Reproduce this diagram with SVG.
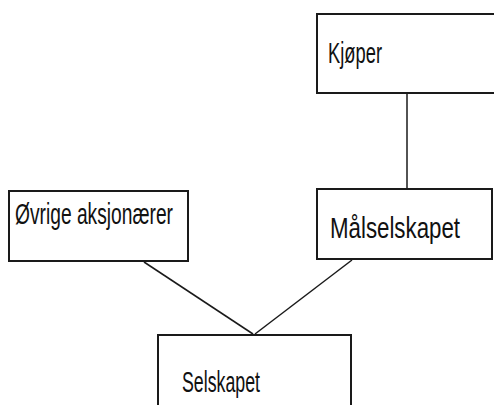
<svg xmlns="http://www.w3.org/2000/svg" width="494" height="405" viewBox="0 0 494 405">
<style>
.box{fill:#fff;stroke:#1a1a1a;stroke-width:2}
.lbl{font-family:"Liberation Sans",Arial,sans-serif;font-size:29px;fill:#111}
.con{stroke:#1a1a1a;stroke-width:1.5;fill:none}
</style>
<rect width="494" height="405" fill="#fff"/>
<g id="connectors">
<line class="con" x1="407" y1="93" x2="407" y2="189"/>
<line class="con" x1="144" y1="262" x2="253" y2="334"/>
<line class="con" x1="352" y1="260" x2="255" y2="334"/>
</g>
<g id="kjoper">
<rect class="box" x="317" y="14" width="190" height="79"/>
<text class="lbl" x="328" y="63" textLength="54" lengthAdjust="spacingAndGlyphs">Kjøper</text>
</g>
<g id="ovrige">
<rect class="box" x="9" y="191" width="179" height="70"/>
<text class="lbl" x="15" y="224" textLength="158" lengthAdjust="spacingAndGlyphs">Øvrige aksjonærer</text>
</g>
<g id="malselskapet">
<rect class="box" x="317" y="189" width="175" height="70"/>
<text class="lbl" x="330" y="238" textLength="130" lengthAdjust="spacingAndGlyphs">Målselskapet</text>
</g>
<g id="selskapet">
<rect class="box" x="158" y="335" width="193" height="80"/>
<text class="lbl" x="182" y="392" textLength="78" lengthAdjust="spacingAndGlyphs">Selskapet</text>
</g>
</svg>
